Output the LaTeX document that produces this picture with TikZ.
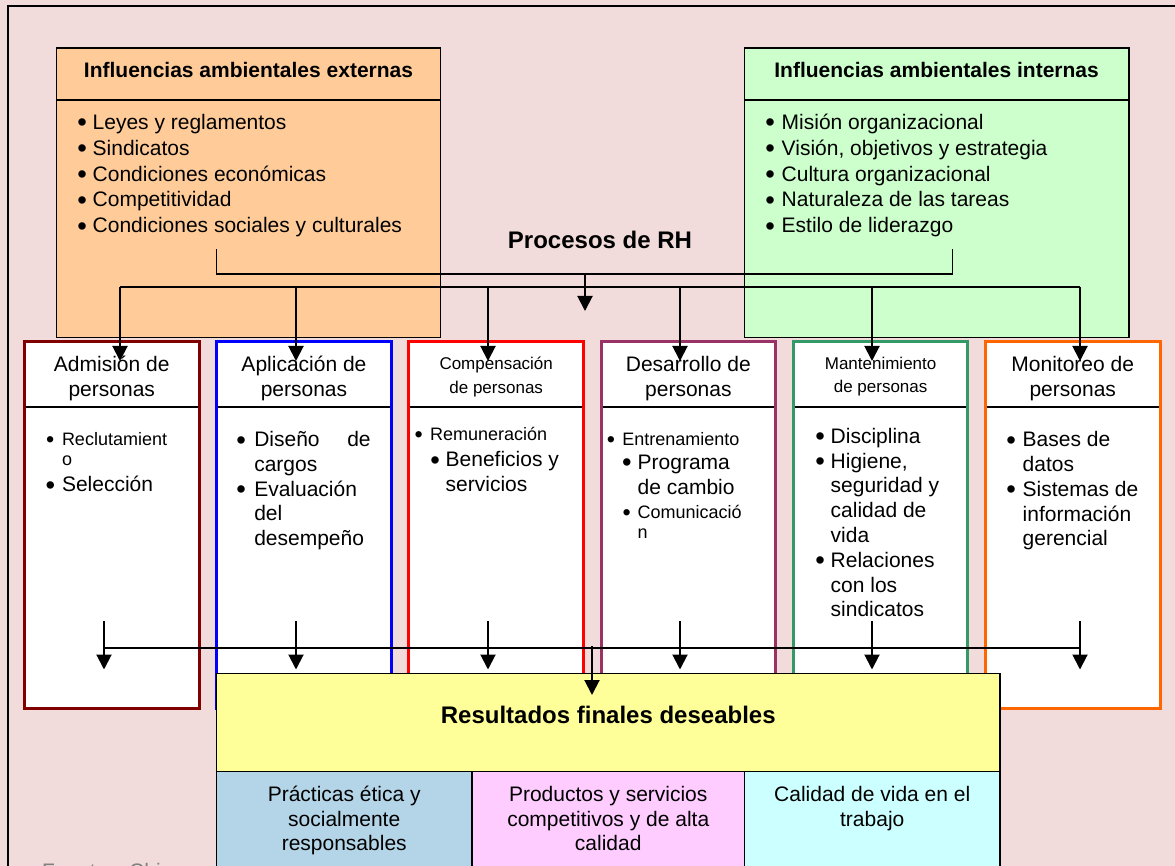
\documentclass[tikz,border=0pt]{standalone}
\usepackage{fontspec}
\usepackage{graphicx}
\setmainfont{Liberation Sans}
\usetikzlibrary{arrows.meta,calc}

\definecolor{rosebg}{HTML}{F2DCDB}
\definecolor{extfill}{HTML}{FFCC99}
\definecolor{intfill}{HTML}{CCFFCC}
\definecolor{resfill}{HTML}{FFFF99}
\definecolor{eticafill}{HTML}{B4D5E8}
\definecolor{prodfill}{HTML}{FFCCFF}
\definecolor{vidafill}{HTML}{CCFFFF}
\definecolor{admcol}{HTML}{800000}
\definecolor{aplcol}{HTML}{0000FF}
\definecolor{comcol}{HTML}{FF0000}
\definecolor{descol}{HTML}{993366}
\definecolor{mancol}{HTML}{339966}
\definecolor{moncol}{HTML}{FF6600}
\definecolor{srcgray}{HTML}{808080}

% font sizes (1pt = one unit of the drawing grid)
\newcommand{\szN}{\fontsize{21}{24.8}\selectfont}
\newcommand{\szL}{\fontsize{21}{25.9}\selectfont}
\newcommand{\szS}{\fontsize{18}{20}\selectfont}
\newcommand{\szH}{\fontsize{17}{23.3}\selectfont}
\newcommand{\szB}{\fontsize{21}{25}\selectfont\bfseries}
\newcommand{\szT}{\fontsize{24}{28}\selectfont\bfseries}

% stacked lines; the node baseline is the first line's baseline
\newcommand{\cstack}[1]{\vtop{\halign{\hfil##\hfil\cr#1\crcr}}}
\newcommand{\lstack}[1]{\vtop{\halign{##\hfil\cr#1\crcr}}}
\newcommand{\bul}[1]{\makebox[#1][l]{\raisebox{-0.12em}{\scalebox{1.3}{•}}}}
\newcommand{\ind}[1]{\kern#1\relax}

\begin{document}
\begin{tikzpicture}[x=1pt,y=-1pt,
  every node/.style={inner sep=0pt,outer sep=0pt},
  panel/.style={draw=black,line width=1.3pt,anchor=north west},
  procbox/.style={draw=#1,line width=3pt,fill=white,anchor=north west,
                  minimum width=174.5pt,minimum height=367pt},
  divider/.style={line width=1.3pt},
  txt/.style={anchor=base,font=\szN},
  ltxt/.style={anchor=base west,font=\szN},
  stxt/.style={anchor=base west,font=\szS},
  link/.style={line width=1.7pt},
  arr/.style={line width=2pt,-{Triangle[width=15pt,length=15pt]}},
]
\useasboundingbox (0,0) rectangle (1175,866);
\fill[rosebg] (0,0) rectangle (1175,866);

% source line at the foot of the page
\node[anchor=base west,font=\szN,text=srcgray] (src) at (42,878) {Fuente:\hspace{16pt}Chiavenato};

% outer frame
\draw[line width=1.3pt] (8,880) |- (1180,6);

% environmental influences
\node[panel,fill=extfill,minimum width=384pt,minimum height=52pt] (extH) at (56.5,48) {};
\node[panel,fill=extfill,minimum width=384pt,minimum height=237.5pt] (extB) at (56.5,100) {};
\node[panel,fill=intfill,minimum width=384.7pt,minimum height=52pt] (intH) at (744.3,48) {};
\node[panel,fill=intfill,minimum width=384.7pt,minimum height=237.5pt] (intB) at (744.3,100) {};

\node[anchor=base,font=\szB] (extT) at (248.5,78) {Influencias ambientales externas};
\node[anchor=base,font=\szB] (intT) at (936.6,78) {Influencias ambientales internas};

\node[anchor=base west,font=\szL] (extL) at (77.3,129.3) {\lstack{%
  \bul{15.4pt}Leyes y reglamentos\cr
  \bul{15.4pt}Sindicatos\cr
  \bul{15.4pt}Condiciones económicas\cr
  \bul{15.4pt}Competitividad\cr
  \bul{15.4pt}Condiciones sociales y culturales}};
\node[anchor=base west,font=\szL] (intL) at (765.3,129.3) {\lstack{%
  \bul{16.4pt}Misión organizacional\cr
  \bul{16.4pt}Visión, objetivos y estrategia\cr
  \bul{16.4pt}Cultura organizacional\cr
  \bul{16.4pt}Naturaleza de las tareas\cr
  \bul{16.4pt}Estilo de liderazgo}};

\node[anchor=base,font=\szT] (proc) at (600,248.5) {Procesos de RH};

% the six HR processes
\foreach \i/\c/\xx in {1/admcol/24.5,2/aplcol/216.7,3/comcol/408.9,
                       4/descol/601.1,5/mancol/793.3,6/moncol/985.5} {
  \node[procbox=\c] (b\i) at (\xx,341.5) {};
  \draw[divider] ($(b\i.north west)+(1.5,65.5)$) -- ($(b\i.north east)+(-1.5,65.5)$);
}

\node[txt] (h1) at (111.75,372) {\cstack{Admisión de\cr personas}};
\node[txt] (h2) at (303.95,372) {\cstack{Aplicación de\cr personas}};
\node[anchor=base,font=\szH] (h3) at (496.2,370) {\cstack{Compensación\cr de personas}};
\node[txt] (h4) at (688.35,372) {\cstack{Desarrollo de\cr personas}};
\node[anchor=base,font=\szH] (h5) at (880.6,369.5) {\cstack{Mantenimiento\cr de personas}};
\node[txt] (h6) at (1072.75,372) {\cstack{Monitoreo de\cr personas}};

\node[stxt] (i1a) at (46.1,445) {\lstack{\bul{15.9pt}Reclutamient\cr\ind{15.9pt}o}};
\node[ltxt] (i1b) at (45.6,491.7) {\bul{16.4pt}Selección};

\node[ltxt] (i2) at (236.3,446.5) {\lstack{%
  \bul{18pt}\makebox[116.4pt][s]{Diseño de}\cr
  \ind{18pt}cargos\cr
  \bul{18pt}Evaluación\cr
  \ind{18pt}del\cr
  \ind{18pt}desempeño}};

\node[stxt] (i3a) at (414.5,440.7) {\bul{15.5pt}Remuneración};
\node[ltxt] (i3b) at (430.3,466.7) {\lstack{\bul{15.4pt}Beneficios y\cr\ind{15.4pt}servicios}};

\node[stxt] (i4a) at (606.8,445) {\bul{15.5pt}Entrenamiento};
\node[ltxt] (i4b) at (622,469.3) {\lstack{\bul{15.7pt}Programa\cr\ind{15.7pt}de cambio}};
\node[stxt] (i4c) at (622.5,518.3) {\lstack{\bul{15.2pt}Comunicació\cr\ind{15.2pt}n}};

\node[ltxt] (i5) at (815.3,443.3) {\lstack{%
  \bul{15.4pt}Disciplina\cr
  \bul{15.4pt}Higiene,\cr
  \ind{15.4pt}seguridad y\cr
  \ind{15.4pt}calidad de\cr
  \ind{15.4pt}vida\cr
  \bul{15.4pt}Relaciones\cr
  \ind{15.4pt}con los\cr
  \ind{15.4pt}sindicatos}};

\node[ltxt] (i6) at (1006.3,446.7) {\lstack{%
  \bul{16.4pt}Bases de\cr
  \ind{16.4pt}datos\cr
  \bul{16.4pt}Sistemas de\cr
  \ind{16.4pt}información\cr
  \ind{16.4pt}gerencial}};

% influences feeding the processes
\coordinate (pL) at (216.5,249);
\coordinate (pR) at (952.5,249);
\coordinate (hub) at (585,274);
\coordinate (hubTip) at (585,311);
\draw[link] (pL) |- (hub) -| (pR);
\draw[arr] (hub) -- (hubTip);
\foreach \i/\xx in {1/120,2/296,3/488,4/680,5/872,6/1080} {
  \coordinate (j\i) at (\xx,287);
  \coordinate (t\i) at (\xx,361);
  \draw[arr] (j\i) -- (t\i);
}
\draw[link] (j1) -- (j6);

% desired outcomes
\node[panel,fill=resfill,minimum width=783.5pt,minimum height=98.2pt] (res) at (216.5,673.5) {};
\node[anchor=base,font=\szT] (resT) at (608.25,723) {Resultados finales deseables};

\node[panel,fill=eticafill,minimum width=255.5pt,minimum height=120pt] (o1) at (216.5,771.7) {};
\node[panel,fill=prodfill,minimum width=272.5pt,minimum height=120pt] (o2) at (472,771.7) {};
\node[panel,fill=vidafill,minimum width=255.5pt,minimum height=120pt] (o3) at (744.5,771.7) {};

\node[anchor=base,font=\fontsize{21}{24.5}\selectfont] (o1t) at (344.25,801.5)
  {\cstack{Prácticas ética y\cr socialmente\cr responsables}};
\node[anchor=base,font=\fontsize{21}{24.5}\selectfont] (o2t) at (608.25,801.5)
  {\cstack{Productos y servicios\cr competitivos y de alta\cr calidad}};
\node[anchor=base,font=\fontsize{21}{24.5}\selectfont] (o3t) at (872.25,801.5)
  {\cstack{Calidad de vida en el\cr trabajo}};

% processes feeding the outcomes
\foreach \i/\xx in {1/104,2/296,3/488,4/680,5/872,6/1080} {
  \coordinate (u\i) at (\xx,621);
  \coordinate (v\i) at (\xx,669.5);
  \draw[arr] (u\i) -- (v\i);
}
\coordinate (k1) at (104,648);
\coordinate (k6) at (1080,648);
\draw[link] (k1) -- (k6);
\coordinate (kc) at (592,646);
\coordinate (rTip) at (592,695);
\draw[arr] (kc) -- (rTip);
\end{tikzpicture}
\end{document}
